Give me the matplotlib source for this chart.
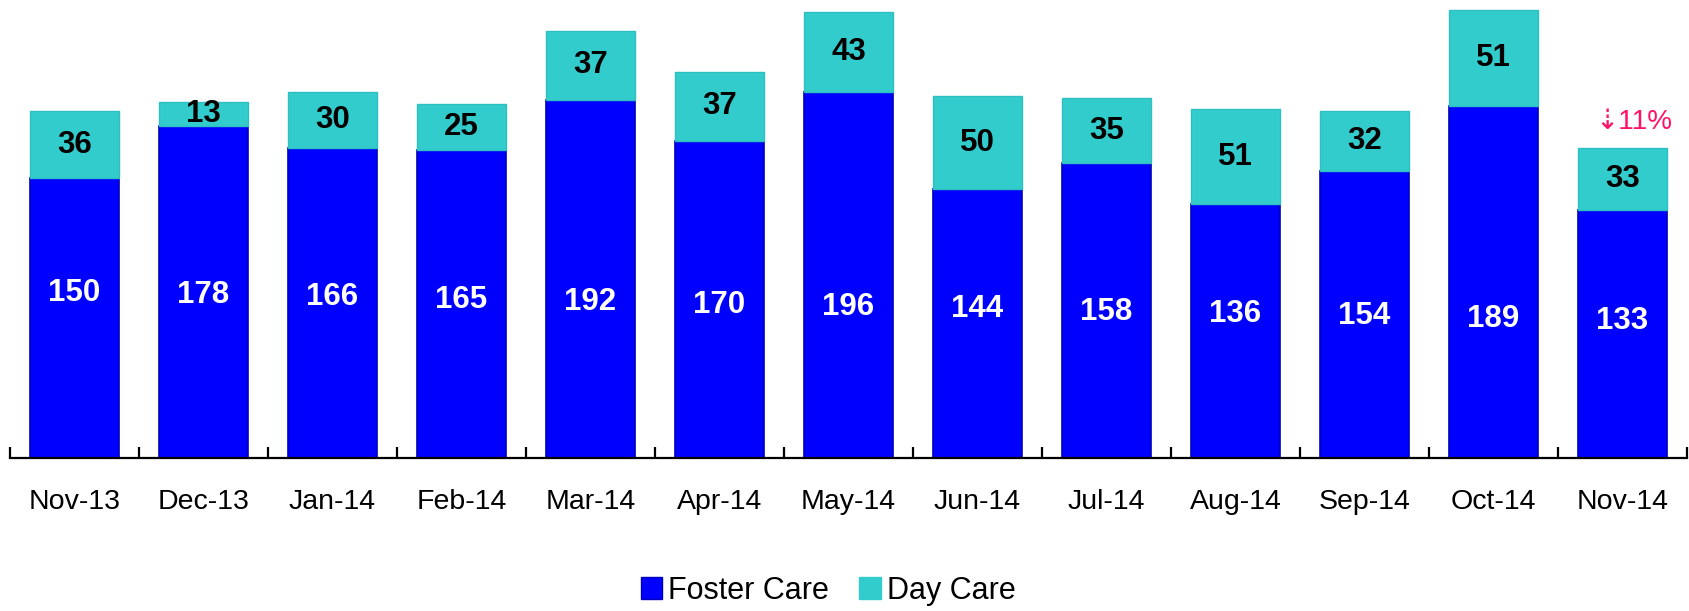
import numpy as np
import matplotlib
matplotlib.use('Agg')
import matplotlib.pyplot as plt
from matplotlib.patches import Patch

plt.rcParams['font.family'] = ['Liberation Sans', 'DejaVu Sans']

months = ["Nov-13", "Dec-13", "Jan-14", "Feb-14", "Mar-14", "Apr-14", "May-14",
          "Jun-14", "Jul-14", "Aug-14", "Sep-14", "Oct-14", "Nov-14"]
foster = [150, 178, 166, 165, 192, 170, 196, 144, 158, 136, 154, 189, 133]
day = [36, 13, 30, 25, 37, 37, 43, 50, 35, 51, 32, 51, 33]
change_note = "\u21e311%"

blue = "#0000FF"
cyan = "#33CCCC"

fig = plt.figure(figsize=(16.9, 6.11), dpi=100)
ax = fig.add_axes([10/1690, 153/611, 1677/1690, 458/611])

x = np.arange(len(months))
w = 0.69
ax.bar(x, foster, w, color=blue, edgecolor="#0000BB", linewidth=1.2)
ax.bar(x, day, w, bottom=foster, color=cyan, edgecolor="#2EC0C0", linewidth=1.0)

ax.set_xlim(-0.5, len(months) - 0.5)
ax.set_ylim(0, 245.6)

# blue labels sit a little lower towards the right, as in the original
for i, (f, d) in enumerate(zip(foster, day)):
    ax.text(i, 0.361 - 0.0052 * i, str(f), transform=ax.get_xaxis_transform(),
            ha="center", va="center", color="white", fontsize=22.5, fontweight="bold",
            fontstretch="condensed")
    ax.text(i, f + d / 2, str(d), ha="center", va="center", color="black",
            fontsize=22.5, fontweight="bold")

last = len(months) - 1
ax.text(last + 0.09, foster[last] + day[last] + 14, change_note, ha="center", va="center",
        color="#FF1166", fontsize=20)

for s in ["left", "top", "right"]:
    ax.spines[s].set_visible(False)
ax.spines["bottom"].set_linewidth(1.6)
ax.set_yticks([])

ax.set_xticks(np.arange(-0.5, len(months)), minor=False)
ax.set_xticklabels([])
ax.tick_params(axis="x", which="major", direction="in", length=8, width=1.6)
ax.set_xticks(x, minor=True)
ax.set_xticklabels(months, minor=True)
ax.tick_params(axis="x", which="minor", length=0, pad=22, labelsize=20.5)

handles = [Patch(facecolor=blue, edgecolor="#0000BB", label="Foster Care"),
           Patch(facecolor=cyan, edgecolor=cyan, label="Day Care")]
fig.legend(handles=handles, loc="center", bbox_to_anchor=(0.49, 0.033), ncol=2,
           frameon=False, fontsize=22, handlelength=0.7, handleheight=0.7,
           handletextpad=0.2, columnspacing=1.0)

fig.savefig("out.png", dpi=100)
